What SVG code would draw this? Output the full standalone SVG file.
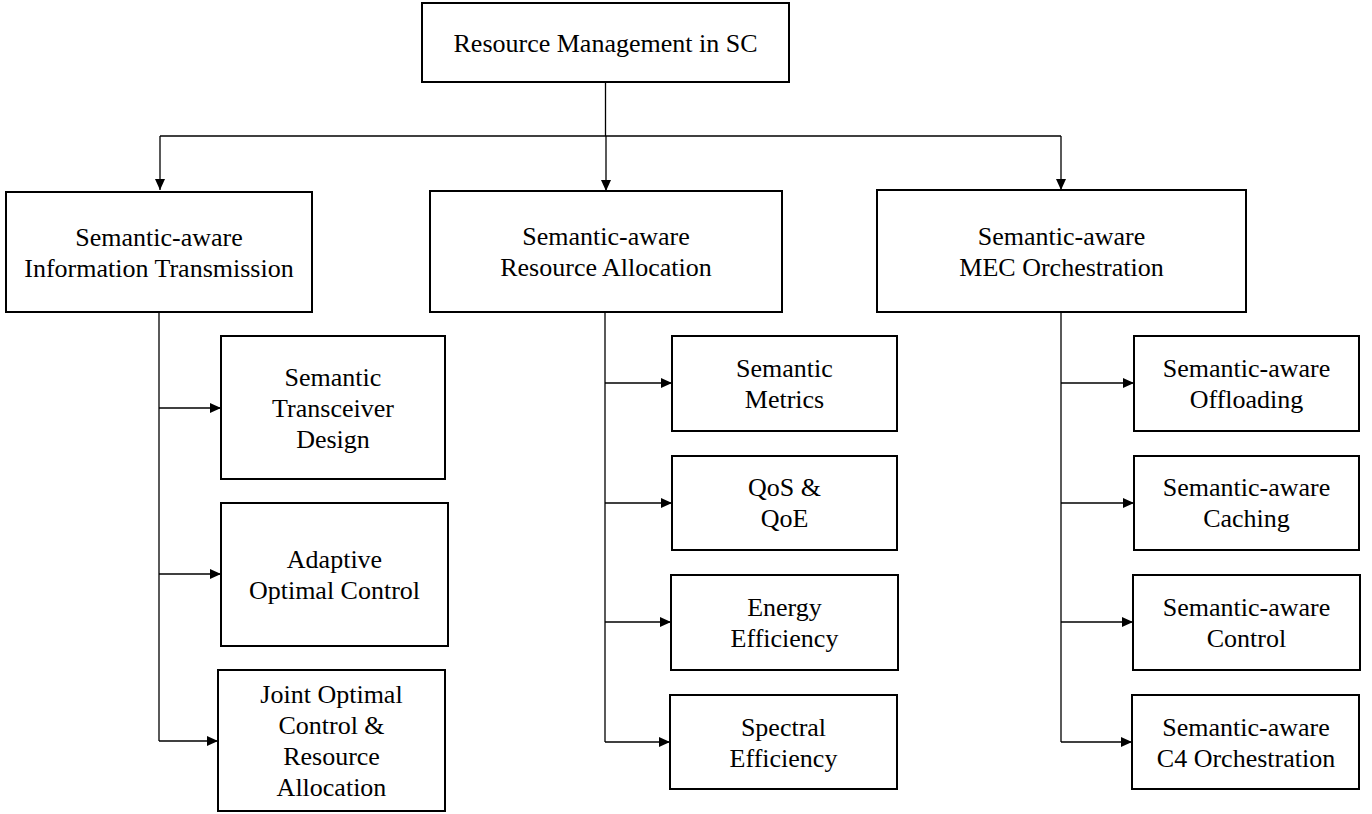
<svg xmlns="http://www.w3.org/2000/svg" width="1372" height="814" viewBox="0 0 1372 814">
  <defs>
    <marker id="arrow" markerUnits="userSpaceOnUse" markerWidth="11" markerHeight="10" refX="11" refY="5" orient="auto">
      <path d="M0,0 L11,5 L0,10 Z" fill="#000000"/>
    </marker>
  </defs>
  <rect width="1372" height="814" fill="#ffffff"/>

  <!-- connectors -->
  <g id="connectors" fill="none" stroke="#000000" stroke-width="1.3">
    <path d="M605.5,82 V136"/>
    <path d="M160,136 H1061"/>
    <path d="M160,136 V190" marker-end="url(#arrow)"/>
    <path d="M606,136 V191" marker-end="url(#arrow)"/>
    <path d="M1061,136 V190" marker-end="url(#arrow)"/>

    <path d="M159,312 V741"/>
    <path d="M159,408 H221" marker-end="url(#arrow)"/>
    <path d="M159,574 H221" marker-end="url(#arrow)"/>
    <path d="M159,741 H218" marker-end="url(#arrow)"/>

    <path d="M605,312 V742"/>
    <path d="M605,383 H672" marker-end="url(#arrow)"/>
    <path d="M605,503 H672" marker-end="url(#arrow)"/>
    <path d="M605,622 H671" marker-end="url(#arrow)"/>
    <path d="M605,742 H670" marker-end="url(#arrow)"/>

    <path d="M1061,312 V742"/>
    <path d="M1061,383 H1134" marker-end="url(#arrow)"/>
    <path d="M1061,503 H1134" marker-end="url(#arrow)"/>
    <path d="M1061,622 H1133" marker-end="url(#arrow)"/>
    <path d="M1061,742 H1132" marker-end="url(#arrow)"/>
  </g>

  <!-- boxes -->
  <g id="boxes" fill="#ffffff" stroke="#000000" stroke-width="2">
    <rect id="root" x="422" y="3" width="367" height="79"/>
    <rect id="info-transmission" x="6" y="192" width="306" height="120"/>
    <rect id="resource-allocation" x="430" y="191" width="352" height="121"/>
    <rect id="mec-orchestration" x="877" y="190" width="369" height="122"/>
    <rect id="transceiver-design" x="221" y="336" width="224" height="143"/>
    <rect id="adaptive-control" x="221" y="503" width="227" height="143"/>
    <rect id="joint-control" x="218" y="670" width="227" height="141"/>
    <rect id="semantic-metrics" x="672" y="336" width="225" height="95"/>
    <rect id="qos-qoe" x="672" y="456" width="225" height="94"/>
    <rect id="energy-efficiency" x="671" y="575" width="227" height="95"/>
    <rect id="spectral-efficiency" x="670" y="695" width="227" height="94"/>
    <rect id="offloading" x="1134" y="336" width="225" height="95"/>
    <rect id="caching" x="1134" y="456" width="225" height="94"/>
    <rect id="control" x="1133" y="575" width="227" height="95"/>
    <rect id="c4-orchestration" x="1132" y="695" width="227" height="94"/>
  </g>

  <!-- labels -->
  <text font-family="Liberation Serif" font-size="26" x="605.5" y="52" text-anchor="middle">Resource Management in SC</text>
  <text font-family="Liberation Serif" font-size="26" x="159" y="246" text-anchor="middle">Semantic-aware</text>
  <text font-family="Liberation Serif" font-size="26" x="159" y="277" text-anchor="middle">Information Transmission</text>
  <text font-family="Liberation Serif" font-size="26" x="606" y="245" text-anchor="middle">Semantic-aware</text>
  <text font-family="Liberation Serif" font-size="26" x="606" y="276" text-anchor="middle">Resource Allocation</text>
  <text font-family="Liberation Serif" font-size="26" x="1061.5" y="245" text-anchor="middle">Semantic-aware</text>
  <text font-family="Liberation Serif" font-size="26" x="1061.5" y="276" text-anchor="middle">MEC Orchestration</text>
  <text font-family="Liberation Serif" font-size="26" x="333" y="386" text-anchor="middle">Semantic</text>
  <text font-family="Liberation Serif" font-size="26" x="333" y="417" text-anchor="middle">Transceiver</text>
  <text font-family="Liberation Serif" font-size="26" x="333" y="448" text-anchor="middle">Design</text>
  <text font-family="Liberation Serif" font-size="26" x="334.5" y="568" text-anchor="middle">Adaptive</text>
  <text font-family="Liberation Serif" font-size="26" x="334.5" y="599" text-anchor="middle">Optimal Control</text>
  <text font-family="Liberation Serif" font-size="26" x="331.5" y="703" text-anchor="middle">Joint Optimal</text>
  <text font-family="Liberation Serif" font-size="26" x="331.5" y="734" text-anchor="middle">Control &amp;</text>
  <text font-family="Liberation Serif" font-size="26" x="331.5" y="765" text-anchor="middle">Resource</text>
  <text font-family="Liberation Serif" font-size="26" x="331.5" y="796" text-anchor="middle">Allocation</text>
  <text font-family="Liberation Serif" font-size="26" x="784.5" y="377" text-anchor="middle">Semantic</text>
  <text font-family="Liberation Serif" font-size="26" x="784.5" y="408" text-anchor="middle">Metrics</text>
  <text font-family="Liberation Serif" font-size="26" x="784.5" y="496" text-anchor="middle">QoS &amp;</text>
  <text font-family="Liberation Serif" font-size="26" x="784.5" y="527" text-anchor="middle">QoE</text>
  <text font-family="Liberation Serif" font-size="26" x="784.5" y="616" text-anchor="middle">Energy</text>
  <text font-family="Liberation Serif" font-size="26" x="784.5" y="647" text-anchor="middle">Efficiency</text>
  <text font-family="Liberation Serif" font-size="26" x="783.5" y="736" text-anchor="middle">Spectral</text>
  <text font-family="Liberation Serif" font-size="26" x="783.5" y="767" text-anchor="middle">Efficiency</text>
  <text font-family="Liberation Serif" font-size="26" x="1246.5" y="377" text-anchor="middle">Semantic-aware</text>
  <text font-family="Liberation Serif" font-size="26" x="1246.5" y="408" text-anchor="middle">Offloading</text>
  <text font-family="Liberation Serif" font-size="26" x="1246.5" y="496" text-anchor="middle">Semantic-aware</text>
  <text font-family="Liberation Serif" font-size="26" x="1246.5" y="527" text-anchor="middle">Caching</text>
  <text font-family="Liberation Serif" font-size="26" x="1246.5" y="616" text-anchor="middle">Semantic-aware</text>
  <text font-family="Liberation Serif" font-size="26" x="1246.5" y="647" text-anchor="middle">Control</text>
  <text font-family="Liberation Serif" font-size="26" x="1246" y="736" text-anchor="middle">Semantic-aware</text>
  <text font-family="Liberation Serif" font-size="26" x="1246" y="767" text-anchor="middle">C4 Orchestration</text>
</svg>
